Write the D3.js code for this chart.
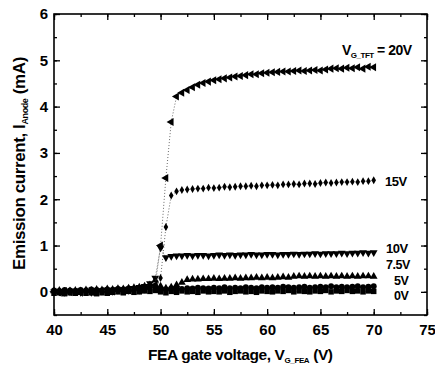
<!DOCTYPE html>
<html>
<head>
<meta charset="utf-8">
<script src="https://cdn.jsdelivr.net/npm/d3@7"></script>
<style>
	body { margin: 0; background: #fff; }
	svg { display: block; font-family: 'Liberation Sans', Arial, sans-serif; font-weight: bold; }
</style>
</head>
<body>
<div data-chart></div>
<script>
const dimensions = {
	width: 435,
	height: 371,
	left: 54,
	right: 427,
	top: 14,
	bottom: 315
}

// FEA gate voltage (V)
const gateVoltage = [
	40, 40.5, 41, 41.5, 42, 42.5, 43, 43.5, 44, 44.5,
	45, 45.5, 46, 46.5, 47, 47.5, 48, 48.5, 49, 49.5,
	50, 50.5, 51, 51.5, 52, 52.5, 53, 53.5, 54, 54.5,
	55, 55.5, 56, 56.5, 57, 57.5, 58, 58.5, 59, 59.5,
	60, 60.5, 61, 61.5, 62, 62.5, 63, 63.5, 64, 64.5,
	65, 65.5, 66, 66.5, 67, 67.5, 68, 68.5, 69, 69.5,
	70
]

// anode current (mA) for each TFT gate voltage
const current20V = [
	0.00, -0.02, 0.01, -0.01, 0.00, -0.02, 0.01, 0.00, -0.01, 0.02,
	0.00, 0.01, 0.03, 0.02, 0.04, 0.03, 0.05, 0.06, 0.08, 0.15,
	1.00, 2.46, 3.67, 4.22, 4.30, 4.36, 4.42, 4.47, 4.51, 4.54,
	4.57, 4.59, 4.61, 4.63, 4.65, 4.66, 4.68, 4.70, 4.70, 4.72,
	4.73, 4.74, 4.75, 4.76, 4.76, 4.77, 4.78, 4.77, 4.78, 4.79,
	4.78, 4.80, 4.82, 4.83, 4.82, 4.84, 4.83, 4.85, 4.82, 4.86,
	4.85
]
const current15V = [
	0.01, -0.01, 0.00, 0.02, -0.01, 0.00, 0.01, -0.02, 0.00, 0.01,
	0.02, 0.00, 0.02, 0.03, 0.02, 0.04, 0.03, 0.05, 0.06, 0.08,
	0.30, 1.40, 2.08, 2.17, 2.20, 2.21, 2.22, 2.23, 2.23, 2.25,
	2.24, 2.25, 2.27, 2.26, 2.27, 2.28, 2.28, 2.29, 2.28, 2.30,
	2.30, 2.31, 2.30, 2.32, 2.32, 2.33, 2.32, 2.34, 2.34, 2.33,
	2.35, 2.36, 2.35, 2.36, 2.37, 2.37, 2.38, 2.37, 2.39, 2.39,
	2.41
]
const current10V = [
	0.00, 0.01, -0.01, 0.00, 0.02, -0.01, 0.01, 0.00, 0.03, 0.02,
	0.04, 0.03, 0.05, 0.04, 0.06, 0.08, 0.10, 0.12, 0.18, 0.30,
	0.95, 0.74, 0.77, 0.78, 0.78, 0.79, 0.78, 0.79, 0.79, 0.78,
	0.79, 0.80, 0.79, 0.80, 0.79, 0.80, 0.80, 0.81, 0.80, 0.80,
	0.81, 0.81, 0.80, 0.81, 0.81, 0.82, 0.81, 0.82, 0.82, 0.83,
	0.82, 0.83, 0.83, 0.83, 0.84, 0.83, 0.84, 0.84, 0.85, 0.84,
	0.85
]
const current7V5 = [
	0.02, 0.03, 0.01, 0.02, 0.03, 0.02, 0.04, 0.03, 0.05, 0.04,
	0.06, 0.05, 0.07, 0.06, 0.08, 0.09, 0.10, 0.12, 0.15, 0.25,
	0.12, 0.08, 0.10, 0.15, 0.20, 0.26, 0.27, 0.27, 0.28, 0.28,
	0.29, 0.28, 0.29, 0.29, 0.30, 0.29, 0.30, 0.30, 0.31, 0.30,
	0.31, 0.30, 0.31, 0.32, 0.31, 0.33, 0.34, 0.33, 0.34, 0.33,
	0.34, 0.33, 0.34, 0.33, 0.34, 0.33, 0.34, 0.33, 0.34, 0.34,
	0.33
]
const current5V = [
	0.03, 0.02, 0.04, 0.03, 0.02, 0.04, 0.03, 0.05, 0.04, 0.03,
	0.05, 0.04, 0.06, 0.05, 0.07, 0.06, 0.05, 0.08, 0.09, 0.12,
	0.06, 0.05, 0.07, 0.08, 0.06, 0.08, 0.07, 0.09, 0.08, 0.07,
	0.09, 0.08, 0.10, 0.08, 0.09, 0.08, 0.10, 0.09, 0.08, 0.10,
	0.09, 0.10, 0.09, 0.11, 0.10, 0.09, 0.10, 0.11, 0.09, 0.10,
	0.11, 0.10, 0.12, 0.10, 0.11, 0.10, 0.11, 0.12, 0.10, 0.11,
	0.12
]
const current0V = [
	-0.03, -0.02, -0.04, -0.02, -0.03, -0.01, -0.03, -0.02, -0.04, -0.02,
	-0.03, -0.01, 0.00, -0.02, 0.01, -0.01, 0.00, 0.02, 0.01, 0.03,
	0.00, -0.02, 0.01, -0.01, 0.02, 0.00, 0.01, -0.01, 0.02, 0.00,
	0.01, 0.00, 0.02, -0.01, 0.01, 0.02, 0.00, 0.01, -0.01, 0.02,
	0.01, 0.00, 0.02, 0.01, 0.03, 0.00, 0.02, 0.01, 0.00, 0.02,
	0.01, 0.03, 0.00, 0.02, 0.01, 0.03, 0.01, 0.02, 0.00, 0.02,
	0.01
]

const seriesNames = ['0V', '5V', '7.5V', '10V', '15V', '20V']
const seriesValues = [current0V, current5V, current7V5, current10V, current15V, current20V]

const xTicks = [40, 45, 50, 55, 60, 65, 70, 75]
const yTicks = [0, 1, 2, 3, 4, 5, 6]

const xAccessor = (d) => d.v
const yAccessor = (d) => d.i

const markers = {
	'0V': { type: d3.symbolSquare, size: 30, rotate: 0 },
	'5V': { type: d3.symbolCircle, size: 28, rotate: 0 },
	'7.5V': { type: d3.symbolTriangle, size: 26, rotate: 0 },
	'10V': { type: d3.symbolTriangle, size: 26, rotate: 180 },
	'15V': { type: d3.symbolDiamond, size: 18, rotate: 0 },
	'20V': { type: d3.symbolTriangle, size: 28, rotate: -90 }
}

const draw = () => {
	const svg = d3.select('[data-chart]')
		.append('svg')
		.attr('width', dimensions.width)
		.attr('height', dimensions.height)

	const xScale = d3.scaleLinear()
		.domain([40, 75])
		.range([dimensions.left, dimensions.right])

	const yScale = d3.scaleLinear()
		.domain([-0.5, 6])
		.range([dimensions.bottom, dimensions.top])

	const plotW = dimensions.right - dimensions.left
	const plotH = dimensions.bottom - dimensions.top

	/* Axes: ticks inward on all four sides */
	const xMinor = d3.range(40, 75.01, 2.5)
	const yMinor = d3.range(-0.5, 6.01, 0.5)

	const addAxis = (axis, transform) => {
		const g = svg.append('g')
			.attr('transform', transform)
			.call(axis)
		g.select('.domain').remove()
		g.selectAll('line').attr('stroke', '#000').attr('stroke-width', 1.3)
		g.selectAll('text')
			.attr('font-size', 15)
			.attr('font-weight', 'bold')
			.attr('font-family', "'Liberation Sans', Arial, sans-serif")
			.attr('fill', '#000')
		return g
	}

	addAxis(d3.axisBottom(xScale).tickValues(xMinor).tickSize(-3).tickFormat(''), `translate(0,${dimensions.bottom})`)
	addAxis(d3.axisBottom(xScale).tickValues(xTicks).tickSize(-6).tickPadding(9).tickFormat(d3.format('d')), `translate(0,${dimensions.bottom})`)
	addAxis(d3.axisTop(xScale).tickValues(xMinor).tickSize(-3).tickFormat(''), `translate(0,${dimensions.top})`)
	addAxis(d3.axisTop(xScale).tickValues(xTicks).tickSize(-6).tickFormat(''), `translate(0,${dimensions.top})`)
	addAxis(d3.axisLeft(yScale).tickValues(yMinor).tickSize(-3).tickFormat(''), `translate(${dimensions.left},0)`)
	addAxis(d3.axisLeft(yScale).tickValues(yTicks).tickSize(-6).tickPadding(6).tickFormat(d3.format('d')), `translate(${dimensions.left},0)`)
	addAxis(d3.axisRight(yScale).tickValues(yMinor).tickSize(-3).tickFormat(''), `translate(${dimensions.right},0)`)
	addAxis(d3.axisRight(yScale).tickValues(yTicks).tickSize(-6).tickFormat(''), `translate(${dimensions.right},0)`)

	svg.append('rect')
		.attr('x', dimensions.left)
		.attr('y', dimensions.top)
		.attr('width', plotW)
		.attr('height', plotH)
		.attr('fill', 'none')
		.attr('stroke', '#000')
		.attr('stroke-width', 1.6)

	/* Series */
	const lineGenerator = d3.line()
		.x((d) => xScale(xAccessor(d)))
		.y((d) => yScale(yAccessor(d)))

	seriesNames.forEach((name, k) => {
		const data = gateVoltage.map((v, j) => ({ v, i: seriesValues[k][j] }))
		const m = markers[name]

		svg.append('path')
			.datum(data)
			.attr('d', lineGenerator)
			.attr('fill', 'none')
			.attr('stroke', '#444')
			.attr('stroke-width', 0.8)
			.attr('stroke-dasharray', '1,2')

		svg.append('g')
			.selectAll('path')
			.data(data)
			.join('path')
			.attr('d', d3.symbol().type(m.type).size(m.size))
			.attr('transform', (d) => `translate(${xScale(xAccessor(d))},${yScale(yAccessor(d))}) rotate(${m.rotate})`)
			.attr('fill', '#000')
	})

	/* Series labels */
	const label = (x, y, size) => svg.append('text')
		.attr('x', x)
		.attr('y', y)
		.attr('font-size', size)
		.attr('letter-spacing', -0.5)
		.attr('fill', '#000')

	const top = label(342, 55, 14)
	top.append('tspan').text('V')
	top.append('tspan').attr('font-size', 8).attr('dy', 3).text('G_TFT')
	top.append('tspan').attr('dy', -3).text(' = 20V')

	label(385, 186, 13).text('15V')
	label(386, 253, 13).text('10V')
	label(386, 269, 12.5).text('7.5V')
	label(394, 285, 12.5).text('5V')
	label(394, 300, 12.5).text('0V')

	/* Axis titles */
	const xTitle = svg.append('text')
		.attr('x', 148)
		.attr('y', 360)
		.attr('font-size', 15.5)
		.attr('letter-spacing', -0.4)
		.attr('fill', '#000')
	xTitle.append('tspan').text('FEA gate voltage, V')
	xTitle.append('tspan').attr('font-size', 8).attr('dy', 3).text('G_FEA')
	xTitle.append('tspan').attr('dy', -3).text(' (V)')

	const yTitle = svg.append('text')
		.attr('transform', 'translate(25,270) rotate(-90)')
		.attr('font-size', 17)
		.attr('letter-spacing', -0.4)
		.attr('fill', '#000')
	yTitle.append('tspan').text('Emission current, I')
	yTitle.append('tspan').attr('font-size', 9).attr('dy', 3).text('Anode')
	yTitle.append('tspan').attr('dy', -3).text(' (mA)')
}

draw()
</script>
</body>
</html>
